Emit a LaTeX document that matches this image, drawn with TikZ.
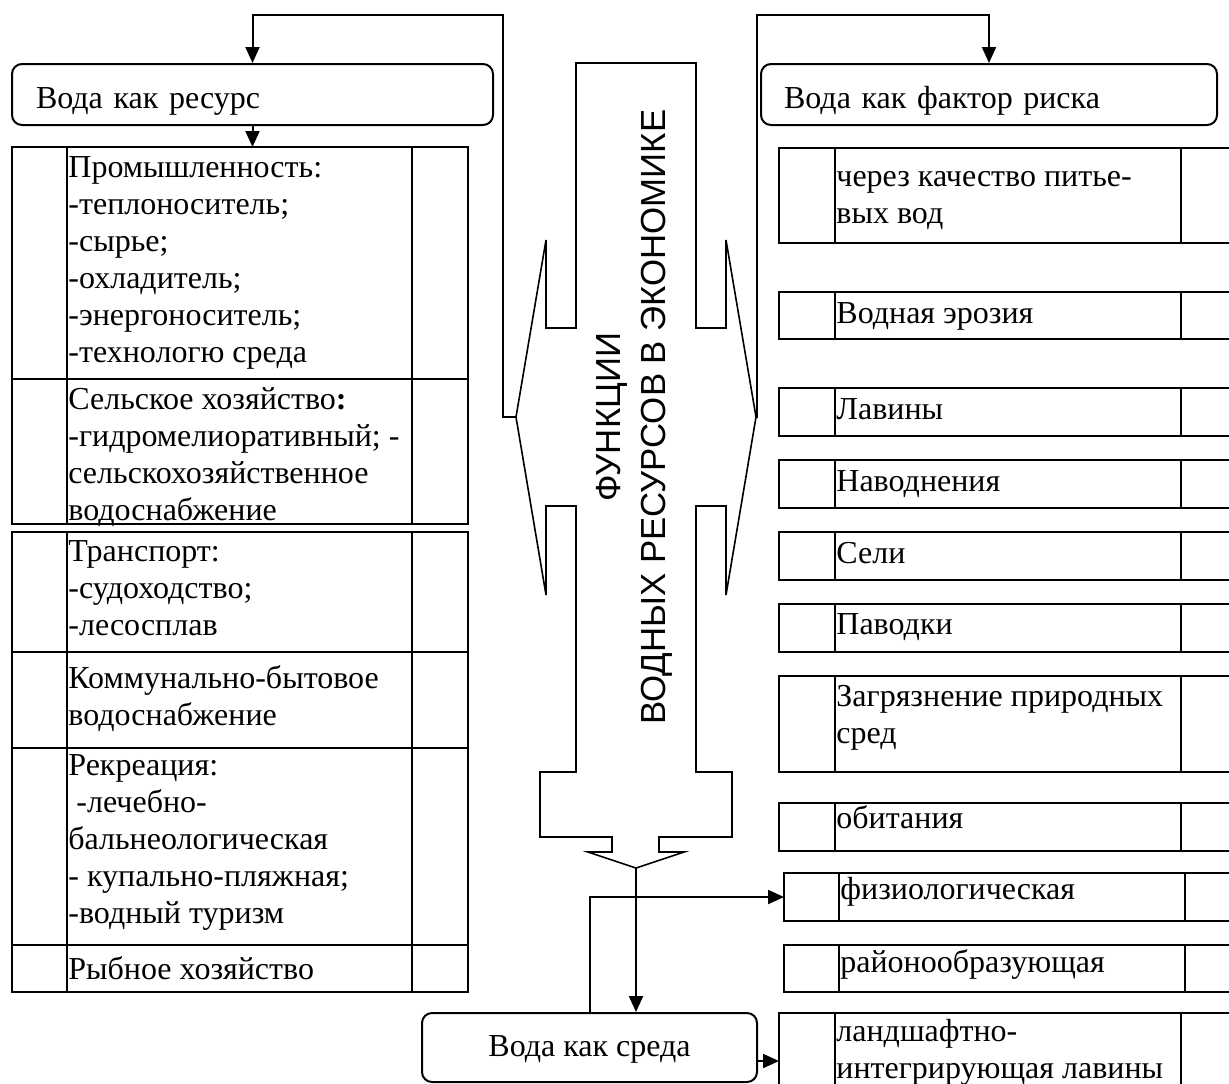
\documentclass[tikz,border=0pt]{standalone}
\usepackage{fontspec}
\setmainfont{Liberation Serif}
\newfontfamily\arialfont{Liberation Sans}
\usepackage{tikz}
\usetikzlibrary{arrows.meta}
\usetikzlibrary{calc}
\usetikzlibrary{positioning}

\begin{document}
\begin{tikzpicture}[
        x=0.5pt, y=-0.5pt,
        frame/.style={draw, line width=1pt},
        callout line/.style={line width=0.8pt, line join=miter},
        head/.style={draw, line width=1pt, rounded corners=5pt, inner sep=0pt,
        minimum height=30.5pt, anchor=north west,
        font=\fontsize{16}{18.5}\selectfont},
        cell text/.style={anchor=base west, inner sep=0pt, align=left,
        font=\fontsize{16}{18.5}\selectfont},
        link/.style={line width=1pt, -{Triangle[length=8pt, width=7pt]}},
        every node/.style={color=black}
        ]
        \useasboundingbox (0,0) rectangle (1229,1083);
        \clip (0,0) rectangle (1229,1083);

        % headers
        \node[head, minimum width=240.5pt, text width=216.5pt, align=left,
              inner xsep=12pt, text height=16pt, text depth=2.5pt]
              (res) at (11,63) {Вода как ресурс};
        \node[head, minimum width=228pt, text width=205pt, align=left,
              inner xsep=11.5pt, text height=16pt, text depth=2.5pt]
              (risk) at (760,63) {Вода как фактор риска};
        \node[head, minimum width=167.5pt, minimum height=34.5pt,
              text height=12pt, text depth=3.5pt]
              (env) at (421,1012) {Вода как среда};

        % left table (text placed at baseline of last line)
        \foreach \t/\b in {147/379, 379/524, 532/652, 652/748, 748/945, 945/992}
        {
            \draw[frame] (12,\t) rectangle (468,\b);
            \draw[frame] (67,\t) -- (67,\b) (412,\t) -- (412,\b);
        }
        \coordinate (ltab) at (240,147);

        \node[cell text] (ind) at (68,362) {Промышленность:\\-теплоноситель;\\-сырье;\\-охладитель;\\-энергоноситель;\\-технологю среда};
        \node[cell text] (agr) at (68,520) {Сельское хозяйство\textbf{:}\\-гидромелиоративный; -\\сельскохозяйственное\\водоснабжение};
        \node[cell text] (trans) at (68,635) {Транспорт:\\-судоходство;\\-лесосплав};
        \node[cell text] (komm) at (68,725) {Коммунально-бытовое\\водоснабжение};
        \node[cell text] (recr) at (68,923) {Рекреация:\\\ -лечебно-\\бальнеологическая\\- купально-пляжная;\\-водный туризм};
        \node[cell text] (fish) at (68,979) {Рыбное хозяйство};

        % right table
        \foreach \l/\m/\n/\t/\b in {779/835/1181/148/243, 779/835/1181/292/339,
            779/835/1181/388/436, 779/835/1181/460/508, 779/835/1181/532/580,
            779/835/1181/604/652, 779/835/1181/676/772, 779/835/1181/803/851,
            784/839/1185/873/921, 784/839/1185/945/992, 779/835/1181/1013/1110}
        {
            \draw[frame] (\l,\t) rectangle (1240,\b);
            \draw[frame] (\m,\t) -- (\m,\b) (\n,\t) -- (\n,\b);
        }
        \coordinate (fiz) at (784,897);
        \coordinate (land) at (779,1061);

        \node[cell text] (drink) at (836,223) {через качество питье-\\вых вод};
        \node[cell text] (eros) at (836,323) {Водная эрозия};
        \node[cell text] (aval) at (836,419) {Лавины};
        \node[cell text] (flood) at (836,491) {Наводнения};
        \node[cell text] (mud) at (836,563) {Сели};
        \node[cell text] (fresh) at (836,634) {Паводки};
        \node[cell text] (pollut) at (836,743) {Загрязнение природных\\сред};
        \node[cell text] (habit) at (836,828) {обитания};
        \node[cell text] (physio) at (840,899) {физиологическая};
        \node[cell text] (region) at (840,972) {районообразующая};
        \node[cell text] (landsc) at (836,1078) {ландшафтно-\\интегрирующая лавины};

        % central callout
        \draw[callout line] (576,63) -- (696,63) -- (696,328) -- (726,328) -- (726,240)
            -- (756,417) coordinate (rtip) -- (726,595) -- (726,506) -- (696,506)
            -- (696,772) -- (732,772) -- (732,837) -- (659,837) -- (659,852)
            -- (684,852) -- (636,868) coordinate (dtip) -- (588,852) -- (612,852)
            -- (612,837) -- (540,837) -- (540,772) -- (576,772) -- (576,506)
            -- (546,506) -- (546,595) -- (516,417) coordinate (ltip) -- (546,240)
            -- (546,328) -- (576,328) -- cycle;
        \node[rotate=90, align=center, inner sep=0pt,
              font=\arialfont\fontsize{17.4}{22.5}\selectfont]
              (func) at (634,417) {ФУНКЦИИ\\ВОДНЫХ РЕСУРСОВ В ЭКОНОМИКЕ};

        % connectors
        \draw[link] (ltip) -- (503,417) -- (503,15) -| (res.north);
        \draw[link] (rtip) -- (757,417) -- (757,15) -| (risk.north);
        \draw[link] (res.south) -- (res.south |- ltab);
        \draw[link] (dtip) -- (dtip |- env.north);
        \draw[link] (env.north) |- (fiz);
        \draw[link] (env.east |- land) -- (land);

    \end{tikzpicture}
\end{document}
